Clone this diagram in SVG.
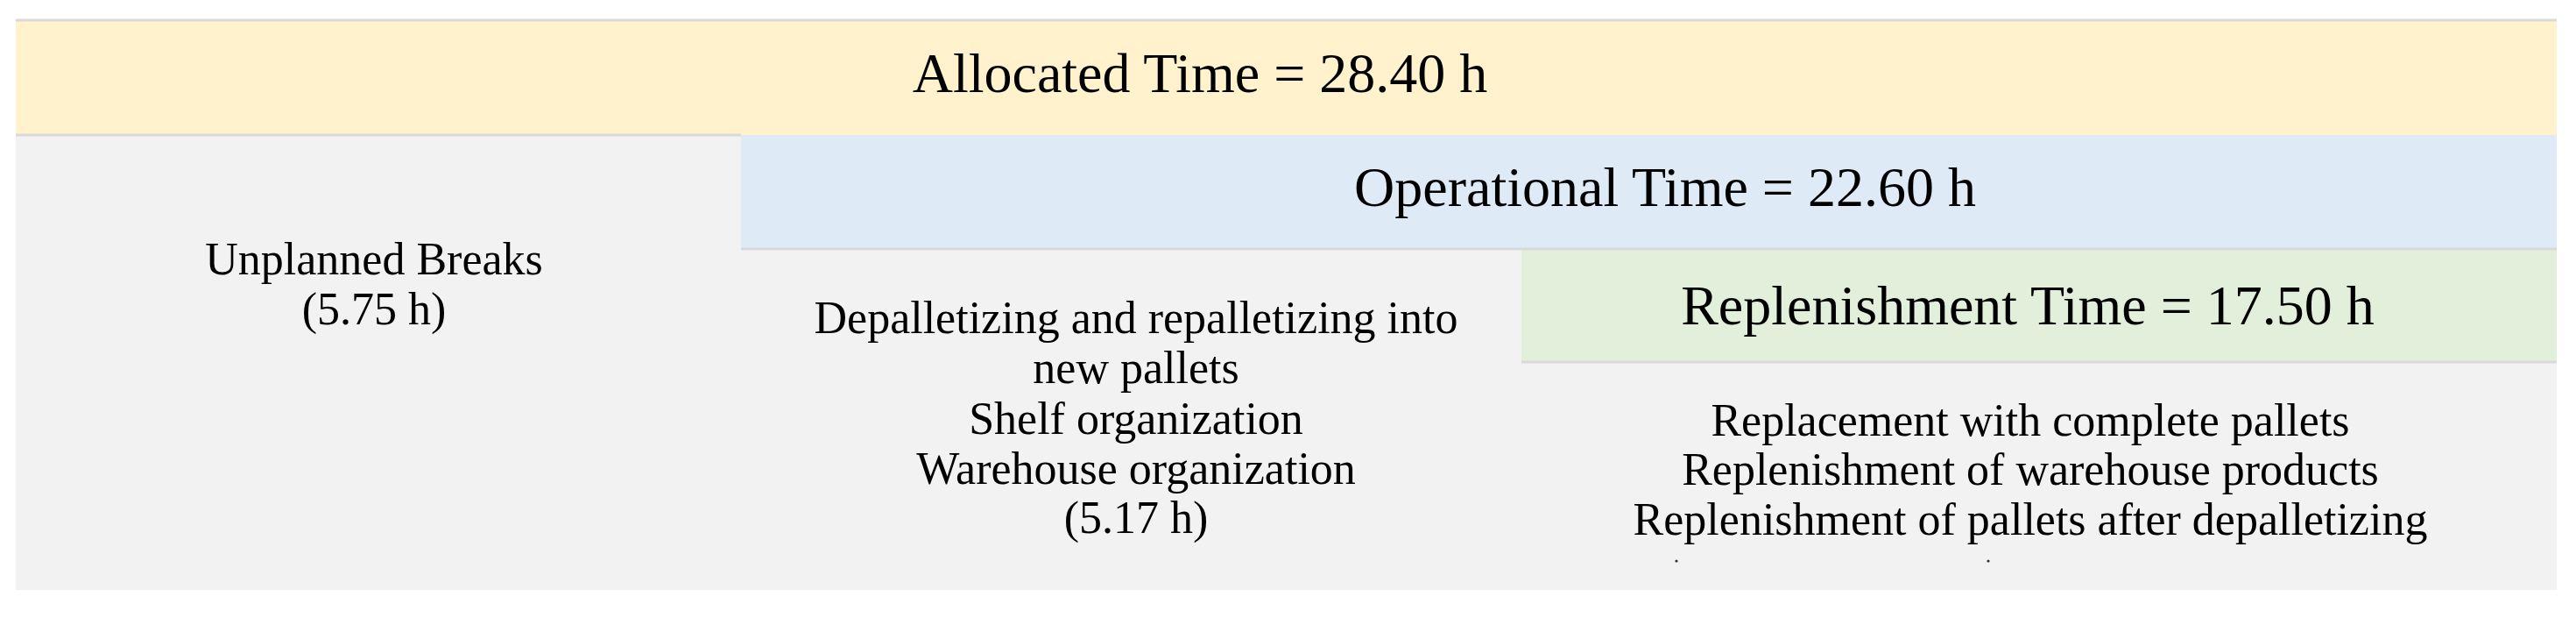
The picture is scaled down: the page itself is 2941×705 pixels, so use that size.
<svg xmlns="http://www.w3.org/2000/svg" width="2941" height="705" viewBox="0 0 2941 705">
<style>
.hd{font-family:"Liberation Serif","Times New Roman",serif;font-size:64px;fill:#000;text-anchor:middle}
.bd{font-family:"Liberation Serif","Times New Roman",serif;font-size:52px;fill:#000;text-anchor:middle}
.ln{stroke:#d9d9d9;stroke-width:3;fill:none}
</style>
<rect x="0" y="0" width="2941" height="705" fill="#ffffff"/>
<g id="background">
<rect x="18" y="23" width="2901" height="650" fill="#f2f2f2"/>
</g>
<g id="allocated">
<rect x="18" y="23" width="2901" height="131" fill="#fff2cc"/>
<text class="hd" x="1370" y="105">Allocated Time = 28.40 h</text>
</g>
<g id="operational">
<rect x="846" y="154" width="2073" height="130" fill="#deebf7"/>
<text class="hd" x="1901" y="235">Operational Time = 22.60 h</text>
</g>
<g id="replenishment">
<rect x="1737" y="285" width="1182" height="128" fill="#e2efda"/>
<text class="hd" x="2315" y="370">Replenishment Time = 17.50 h</text>
</g>
<g id="unplanned">
<text class="bd" x="427" y="313">Unplanned Breaks</text>
<text class="bd" x="427" y="370">(5.75 h)</text>
</g>
<g id="other-ops">
<text class="bd" x="1297" y="380">Depalletizing and repalletizing into</text>
<text class="bd" x="1297" y="437">new pallets</text>
<text class="bd" x="1297" y="495">Shelf organization</text>
<text class="bd" x="1297" y="552">Warehouse organization</text>
<text class="bd" x="1297" y="608">(5.17 h)</text>
</g>
<g id="replenishment-tasks">
<text class="bd" x="2318" y="497">Replacement with complete pallets</text>
<text class="bd" x="2318" y="553">Replenishment of warehouse products</text>
<text class="bd" x="2318" y="610">Replenishment of pallets after depalletizing</text>
<circle cx="1914" cy="640" r="1.6" fill="#333"/>
<circle cx="2270" cy="640" r="1.6" fill="#333"/>
</g>
<g id="connectors">
<line class="ln" x1="18" y1="23" x2="2919" y2="23"/>
<line class="ln" x1="18" y1="154" x2="846" y2="154"/>
<line class="ln" x1="846" y1="284" x2="2919" y2="284"/>
<line class="ln" x1="1737" y1="413" x2="2919" y2="413"/>
</g>
</svg>
